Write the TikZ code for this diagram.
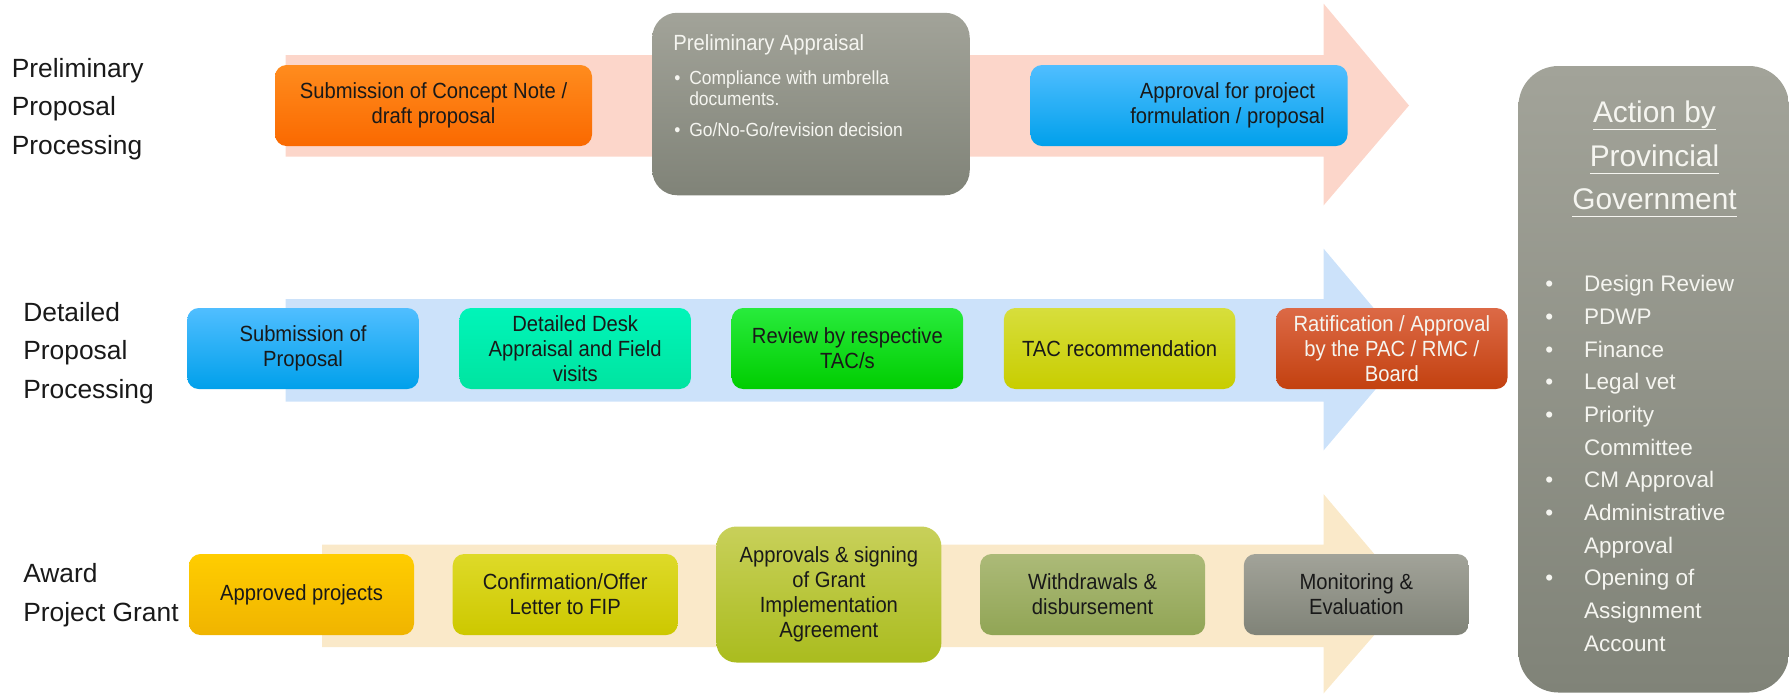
\documentclass[tikz,border=0pt]{standalone}
\usepackage{fontspec}
\setmainfont{Liberation Sans}
\newfontfamily\boxfont[FakeStretch=0.92]{Liberation Sans}
\usepackage{tikz}
\usetikzlibrary{positioning}
\usepackage{xcolor}
% band colours
\definecolor{bandpink}{RGB}{252,214,202}
\definecolor{bandblue}{RGB}{204,226,250}
\definecolor{bandbeige}{RGB}{250,233,201}
% box colours (top / bottom of the shading)
\definecolor{orangetop}{RGB}{255,140,30}
\definecolor{orangebot}{RGB}{250,105,0}
\definecolor{graytop}{RGB}{162,163,153}
\definecolor{graybot}{RGB}{128,131,120}
\definecolor{skytop}{RGB}{80,190,255}
\definecolor{skybot}{RGB}{0,160,235}
\definecolor{tealtop}{RGB}{0,245,185}
\definecolor{tealbot}{RGB}{0,228,160}
\definecolor{greentop}{RGB}{40,235,60}
\definecolor{greenbot}{RGB}{0,205,0}
\definecolor{limetop}{RGB}{215,222,60}
\definecolor{limebot}{RGB}{200,205,0}
\definecolor{rusttop}{RGB}{220,105,70}
\definecolor{rustbot}{RGB}{195,65,15}
\definecolor{goldtop}{RGB}{255,205,0}
\definecolor{goldbot}{RGB}{240,180,0}
\definecolor{citrontop}{RGB}{222,218,40}
\definecolor{citronbot}{RGB}{205,200,0}
\definecolor{olivetop}{RGB}{200,208,90}
\definecolor{olivebot}{RGB}{170,188,30}
\definecolor{sagetop}{RGB}{172,186,120}
\definecolor{sagebot}{RGB}{145,165,85}
\definecolor{darktext}{RGB}{25,25,25}
\definecolor{lighttext}{RGB}{245,245,240}
\tikzstyle{stage} = [rectangle, rounded corners=0.23cm, minimum height=1.62cm, inner sep=2pt, align=center, text=darktext, font=\boxfont\fontsize{12.5}{14.3}\selectfont]
\tikzstyle{rowlabel} = [anchor=west, align=left, inner sep=0pt, text=darktext, font=\fontsize{15}{22}\selectfont]
\tikzstyle{shade} = [top color=#1top, bottom color=#1bot]
% underline at a fixed depth, whatever the descenders
\newcommand{\titleline}[1]{\underline{\smash{#1}\rule[-2.5pt]{0pt}{1pt}}}

\begin{document}
\begin{tikzpicture}
\useasboundingbox (0,0) rectangle (35.78,-13.9);

% Bands
\fill[bandpink] (5.71,-1.10) -- (26.47,-1.10) -- (26.47,-0.07) -- (28.18,-2.11) -- (26.47,-4.11) -- (26.47,-3.13) -- (5.71,-3.13) -- cycle;
\fill[bandblue] (5.71,-5.98) -- (26.47,-5.98) -- (26.47,-4.97) -- (28.18,-7.0) -- (26.47,-9.01) -- (26.47,-8.03) -- (5.71,-8.03) -- cycle;
\fill[bandbeige] (6.44,-10.89) -- (26.47,-10.89) -- (26.47,-9.88) -- (28.18,-11.9) -- (26.47,-13.87) -- (26.47,-12.94) -- (6.44,-12.94) -- cycle;

% Row labels
\node (prelim-label) [rowlabel] at (0.23,-2.18) {Preliminary\\Proposal\\Processing};
\node (detail-label) [rowlabel] at (0.46,-7.06) {Detailed\\Proposal\\Processing};
\node (award-label) [rowlabel] at (0.46,-11.91) {Award\\Project Grant};

% Preliminary proposal processing
\node (sub-concept) [stage, shade=orange, minimum width=6.34cm] at (8.67,-2.11) {Submission of Concept Note /\\draft proposal};
\node (prelim-appraisal) [stage, shade=gray, rounded corners=0.5cm, minimum width=6.35cm, minimum height=3.65cm] at (16.22,-2.08) {};
\node (appraisal-title) [anchor=west, inner sep=0pt, text=lighttext, font=\boxfont\fontsize{12.5}{14.3}\selectfont] at (13.46,-0.89) {Preliminary Appraisal};
\node (appraisal-list) [anchor=north west, inner sep=0pt, text=lighttext, font=\boxfont\fontsize{10.8}{12.4}\selectfont] at (13.48,-1.37)
  {\begin{tabular}{@{}l@{\hspace{5pt}}l@{}}
  • & Compliance with umbrella\\
    & documents.\\[5pt]
  • & Go/No-Go/revision decision
  \end{tabular}};
\node (approval-form) [stage, shade=sky, minimum width=6.34cm] at (23.78,-2.11) {};
\node (approval-text) [align=center, inner sep=0pt, text=darktext, font=\boxfont\fontsize{12.5}{14.3}\selectfont] at (24.55,-2.11) {Approval for project\\formulation / proposal};

% Detailed proposal processing
\begin{scope}[node distance=0.8cm, every node/.append style={minimum width=4.63cm}]
\node (sub-proposal) [stage, shade=sky] at (6.06,-6.97) {Submission of\\Proposal};
\node (desk-appraisal) [stage, shade=teal, right=of sub-proposal] {Detailed Desk\\Appraisal and Field\\visits};
\node (tac-review) [stage, shade=green, right=of desk-appraisal] {Review by respective\\TAC/s};
\node (tac-rec) [stage, shade=lime, right=of tac-review] {TAC recommendation};
\node (ratification) [stage, shade=rust, text=lighttext, right=of tac-rec] {Ratification / Approval\\by the PAC / RMC /\\Board};
\end{scope}

% Award project grant
\begin{scope}[node distance=0.76cm, every node/.append style={minimum width=4.5cm}]
\node (approved) [stage, shade=gold] at (6.03,-11.89) {Approved projects};
\node (offer-letter) [stage, shade=citron, right=of approved] {Confirmation/Offer\\Letter to FIP};
\node (gia-signing) [stage, shade=olive, rounded corners=0.4cm, minimum height=2.72cm, right=of offer-letter] {Approvals \& signing\\of Grant\\Implementation\\Agreement};
\node (withdrawals) [stage, shade=sage, right=of gia-signing] {Withdrawals \&\\disbursement};
\node (monitoring) [stage, shade=gray, right=of withdrawals] {Monitoring \&\\Evaluation};
\end{scope}

% Provincial government
\node (provincial) [rectangle, rounded corners=0.8cm, shade=gray, minimum width=5.41cm, minimum height=12.53cm] at (33.075,-7.585) {};
\node (provincial-title) [align=center, inner sep=0pt, text=lighttext, font=\fontsize{17}{24.6}\selectfont] at (33.09,-3.4) {\titleline{Action by}\\\titleline{Provincial}\\\titleline{Government}};
\node (provincial-list) [anchor=west, inner sep=0pt, text=lighttext, font=\fontsize{12.8}{18.6}\selectfont] at (30.9,-9.3)
  {\begin{tabular}{@{}l@{\hspace{0.62cm}}l@{}}
  • & Design Review\\
  • & PDWP\\
  • & Finance\\
  • & Legal vet\\
  • & Priority\\
    & Committee\\
  • & CM Approval\\
  • & Administrative\\
    & Approval\\
  • & Opening of\\
    & Assignment\\
    & Account
  \end{tabular}};
\end{tikzpicture}
\end{document}
